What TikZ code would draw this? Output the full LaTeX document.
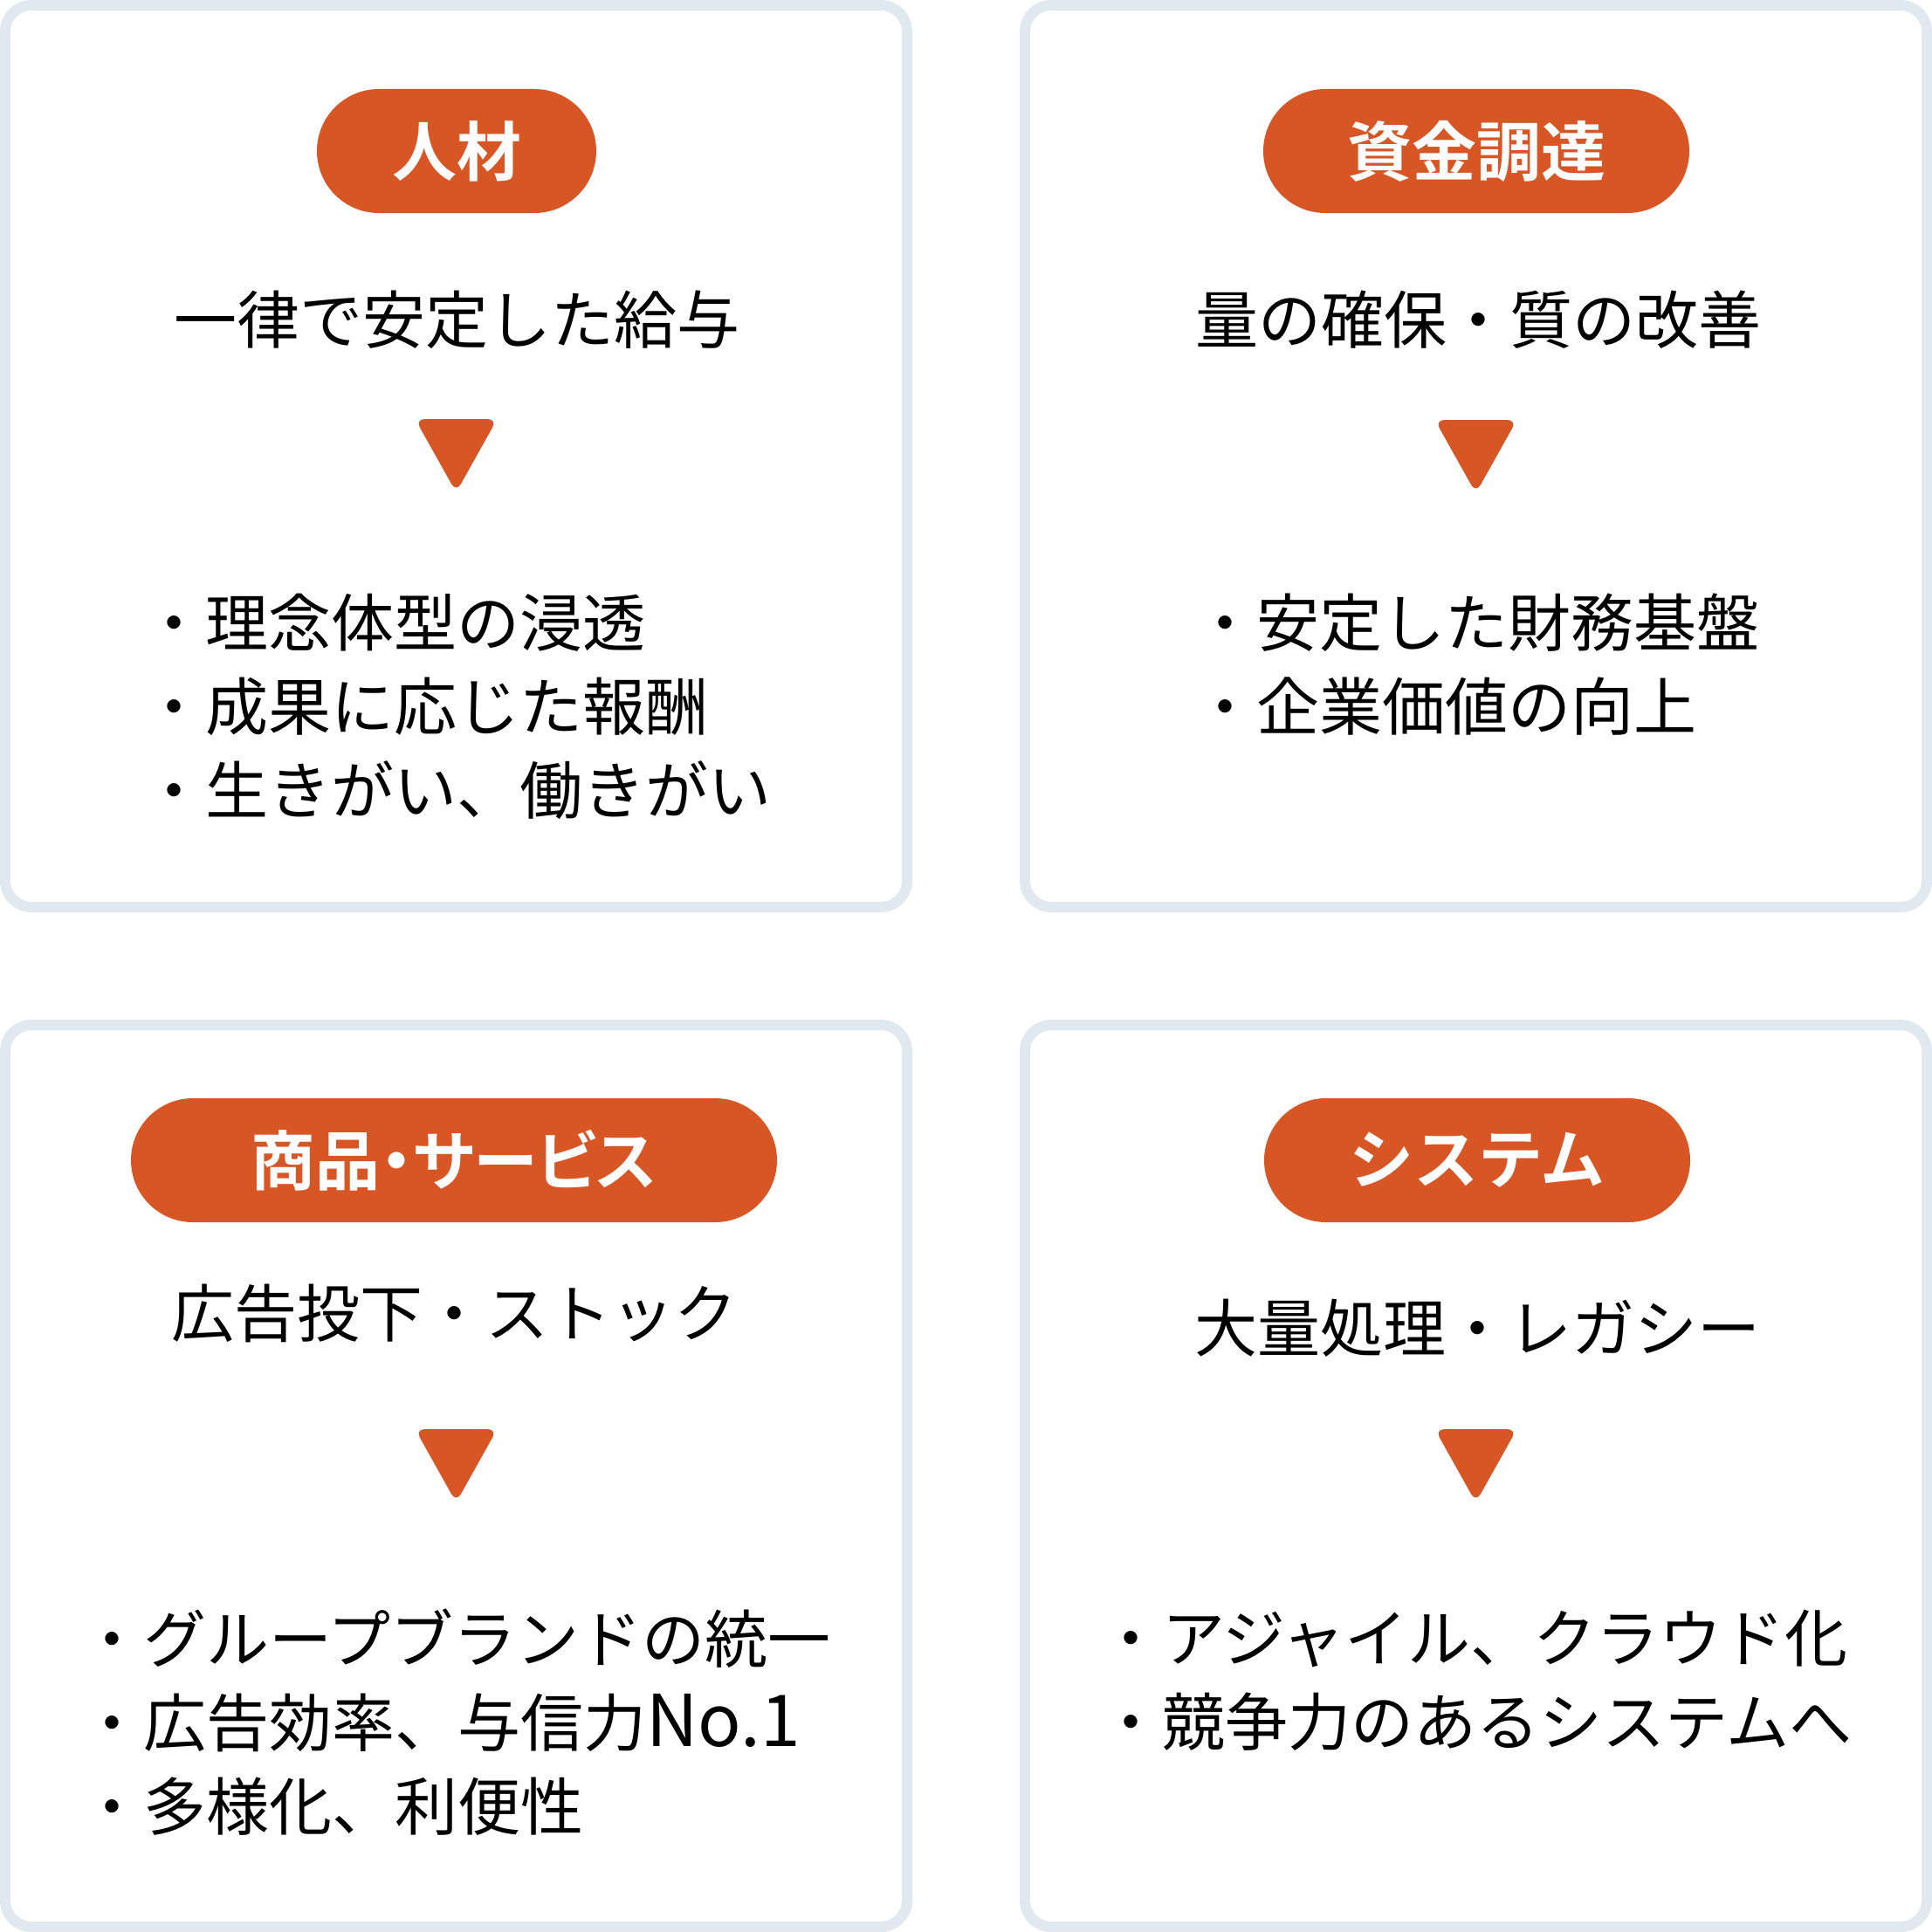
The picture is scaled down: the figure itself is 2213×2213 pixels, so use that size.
\documentclass[tikz,border=0pt]{standalone}
\usepackage{fontspec}
\setmainfont{Noto Sans CJK JP}
\newfontfamily\pillfont{Noto Sans CJK JP Bold}
\newfontfamily\pillfontp{Noto Sans CJK JP Bold}[RawFeature=+palt]
\definecolor{frame}{HTML}{E1E9F0}
\definecolor{accent}{HTML}{D85524}
\tikzset{
  card/.style={draw=frame, line width=12pt, rounded corners=30pt, fill=white},
  pill/.style={fill=accent, rounded corners=71pt, minimum height=142pt, inner sep=0pt, text=white, font=\pillfont\fontsize{74}{80}\selectfont},
  headline/.style={inner sep=0pt, font=\fontsize{72}{80}\selectfont},
  bullets/.style={inner sep=0pt, align=left, font=\fontsize{72}{96}\selectfont},
  marker/.style={fill=accent, rounded corners=11pt}
}
\newcommand{\latinwide}[1]{{\fontsize{82}{96}\selectfont #1}}
\begin{document}
\begin{tikzpicture}[x=1pt,y=-1pt]
\useasboundingbox (0,0) rectangle (2213,2213);
\fill[white] (0,0) rectangle (2213,2213);
% cards
\draw[card] (6,6) rectangle (1039,1039);
\draw[card] (1174,6) rectangle (2207,1039);
\draw[card] (6,1174) rectangle (1039,2207);
\draw[card] (1174,1174) rectangle (2207,2207);
% pills
\node[pill, minimum width=320pt] (p1) at (523,173) {人材};
\node[pill, minimum width=488pt] (p2) at (1691,173) {資金調達};
\node[pill, minimum width=740pt, font=\pillfontp\fontsize{74}{80}\selectfont] (p3) at (520,1329) {商品・サービス};
\node[pill, minimum width=488pt] (p4) at (1692,1329) {システム};
% headlines
\node[headline] (h1) at (523,366) {一律で安定した給与};
\node[headline] (h2) at (1693,366) {量の確保・質の改善};
\node[headline] (h3) at (520,1504) {広告投下・ストック};
\node[headline] (h4) at (1692,1521) {大量処理・レガシー};
% triangles
\coordinate (t1) at (522.5,480);
\coordinate (t2) at (1690.5,481);
\coordinate (t3) at (522.5,1637);
\coordinate (t4) at (1690.5,1637);
\foreach \t in {t1,t2,t3,t4}{
  \fill[marker] ([xshift=-47pt]\t) -- ([xshift=47pt]\t) -- ([yshift=-84pt]\t) -- cycle;
}
% bullet lists
\node[bullets] (b1) at (523,809) {・理念体型の浸透\\・成果に応じた報酬\\・生きがい、働きがい};
\node[bullets] (b2) at (1691,761) {・安定した財務基盤\\・企業価値の向上};
\node[bullets] (b3) at (522,1973) {・グループブランドの統一\\・広告効率、与信力\latinwide{No.1}\\・多様化、利便性};
\node[bullets] (b4) at (1690,1925) {・アジャイル、クラウド化\\・競争力のあるシステムへ};
\end{tikzpicture}
\end{document}
